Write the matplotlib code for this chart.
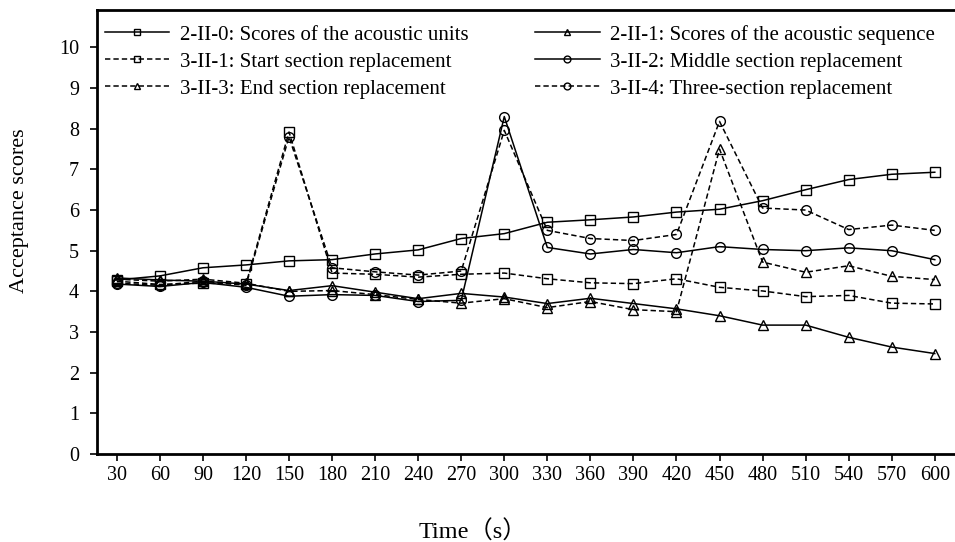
import matplotlib.pyplot as plt

plt.rcParams['font.family'] = ['Liberation Serif', 'Noto Sans CJK SC']

times = [30, 60, 90, 120, 150, 180, 210, 240, 270, 300,
         330, 360, 390, 420, 450, 480, 510, 540, 570, 600]

s_2_II_0 = [4.28, 4.38, 4.58, 4.65, 4.75, 4.78, 4.92, 5.02, 5.30, 5.42,
            5.70, 5.76, 5.83, 5.95, 6.02, 6.23, 6.50, 6.75, 6.88, 6.93]
s_2_II_1 = [4.33, 4.28, 4.25, 4.18, 4.02, 4.14, 3.98, 3.82, 3.95, 3.86,
            3.70, 3.83, 3.70, 3.57, 3.40, 3.17, 3.17, 2.87, 2.63, 2.47]
s_3_II_1 = [4.25, 4.17, 4.20, 4.18, 7.92, 4.45, 4.42, 4.35, 4.42, 4.45,
            4.31, 4.21, 4.19, 4.31, 4.10, 4.01, 3.87, 3.90, 3.71, 3.69]
s_3_II_2 = [4.18, 4.12, 4.22, 4.10, 3.88, 3.92, 3.90, 3.75, 3.78, 8.30,
            5.08, 4.92, 5.03, 4.95, 5.10, 5.03, 5.00, 5.07, 5.00, 4.78]
s_3_II_3 = [4.30, 4.25, 4.30, 4.20, 4.00, 4.02, 3.92, 3.80, 3.71, 3.82,
            3.60, 3.75, 3.55, 3.50, 7.50, 4.72, 4.47, 4.63, 4.37, 4.29]
s_3_II_4 = [4.20, 4.15, 4.25, 4.15, 7.80, 4.58, 4.48, 4.40, 4.50, 7.96,
            5.50, 5.30, 5.25, 5.40, 8.18, 6.05, 6.00, 5.52, 5.63, 5.50]

labels = ['2-II-0: Scores of the acoustic units',
          '2-II-1: Scores of the acoustic sequence',
          '3-II-1: Start section replacement',
          '3-II-2: Middle section replacement',
          '3-II-3: End section replacement',
          '3-II-4: Three-section replacement']

fig = plt.figure(figsize=(9.55, 5.42), dpi=100)
ax = fig.add_axes([0.1016, 0.1624, 0.8984, 0.8191])

x = list(range(len(times)))
dash = (0, (3.5, 2))
kw = dict(color='black', lw=1.1, mfc='none', mec='black', mew=1.0, ms=7)

l0, = ax.plot(x, s_2_II_0, ls='-', marker='s', label=labels[0], **kw)
l1, = ax.plot(x, s_2_II_1, ls='-', marker='^', label=labels[1], **kw)
l2, = ax.plot(x, s_3_II_1, ls=dash, marker='s', label=labels[2], **kw)
l3, = ax.plot(x, s_3_II_2, ls='-', marker='o', label=labels[3], **kw)
l4, = ax.plot(x, s_3_II_3, ls=dash, marker='^', label=labels[4], **kw)
l5, = ax.plot(x, s_3_II_4, ls=dash, marker='o', label=labels[5], **kw)

ax.set_xlim(-0.46, 19.47)
ax.set_ylim(0, 10.92)
ax.set_xticks(x)
ax.set_xticklabels([str(t) for t in times])
ax.set_yticks(range(0, 11))
ax.tick_params(direction='out', length=5, width=1.2, labelsize=14.5, pad=4)
ax.tick_params(axis='y', pad=8)

for sp in ['left', 'bottom', 'top']:
    ax.spines[sp].set_linewidth(2)
ax.spines['right'].set_visible(False)

ax.set_ylabel('Acceptance scores', fontsize=16)
ax.yaxis.set_label_coords(-0.079, 0.547)
ax.set_xlabel('Time（s）', fontsize=17.5)
ax.xaxis.set_label_coords((473 - 97) / 858, -0.15)

# row-wise order like the original: column 1 then column 2
handles = [l0, l2, l4, l1, l3, l5]
ax.legend(handles, [h.get_label() for h in handles], ncol=2,
          loc='upper left', bbox_to_anchor=(-0.008, 1.0),
          frameon=False, fontsize=15, handlelength=3.1,
          markerscale=0.7, labelspacing=0.36, columnspacing=3.2,
          handletextpad=0.5, borderaxespad=0.3)

fig.savefig('out.png', dpi=100)
